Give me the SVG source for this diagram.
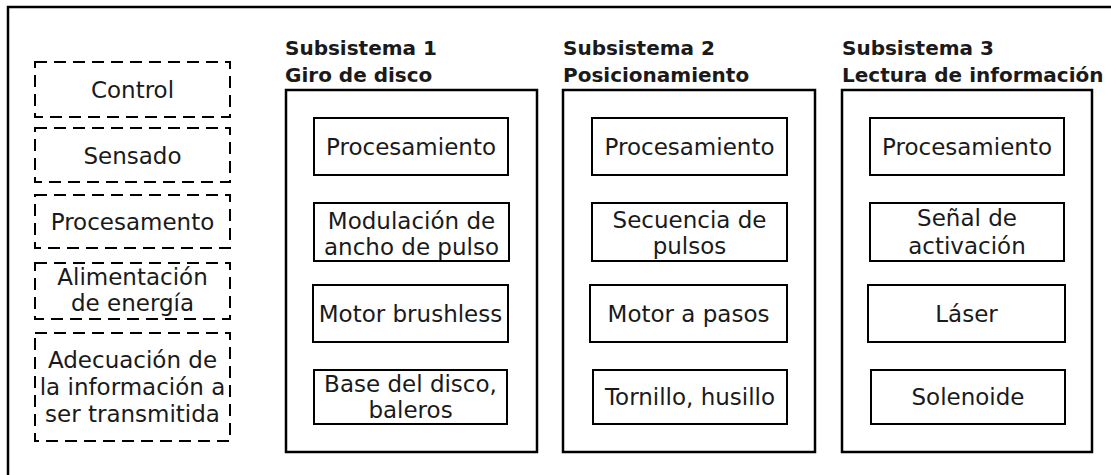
<svg xmlns="http://www.w3.org/2000/svg" width="1111" height="475" viewBox="0 0 1111 475">
<style>
.frame{fill:none;stroke:#000;stroke-width:2.5}
.dash{fill:none;stroke:#000;stroke-width:2;stroke-dasharray:12 7}
.sub{fill:none;stroke:#000;stroke-width:2.5}
.box{fill:#fff;stroke:#000;stroke-width:2}
text{font-family:"DejaVu Sans","Liberation Sans",sans-serif;fill:#1a1a1a}
.t{font-size:23px;text-anchor:middle}
.h{font-size:20px;font-weight:bold}
</style>
<rect width="1111" height="475" fill="#fff"/>
<rect class="frame" x="8" y="7" width="1300" height="700"/>
<g id="leyenda">
<g id="control"><rect class="dash" x="35" y="62" width="195" height="55"/><text class="t" x="132.5" y="97.5">Control</text></g>
<g id="sensado"><rect class="dash" x="35" y="128" width="195" height="54"/><text class="t" x="132.5" y="163.5">Sensado</text></g>
<g id="procesamento"><rect class="dash" x="35" y="195" width="195" height="53"/><text class="t" x="132.5" y="230">Procesamento</text></g>
<g id="alimentacion"><rect class="dash" x="35" y="263" width="195" height="56"/><text class="t" x="132.5" y="285">Alimentación</text><text class="t" x="132.5" y="311">de energía</text></g>
<g id="adecuacion"><rect class="dash" x="35" y="333" width="195" height="108"/><text class="t" x="132.5" y="368">Adecuación de</text><text class="t" x="132.5" y="395">la información a</text><text class="t" x="132.5" y="422">ser transmitida</text></g>
</g>
<g id="subsistema1">
<text class="h" x="285" y="55">Subsistema 1</text><text class="h" x="285" y="82">Giro de disco</text>
<rect class="sub" x="286" y="90" width="251" height="362"/>
<g id="s1-proc"><rect class="box" x="314" y="118" width="194" height="57"/><text class="t" x="411" y="155">Procesamiento</text></g>
<g id="s1-pwm"><rect class="box" x="314" y="203" width="195" height="58"/><text class="t" x="411.5" y="229">Modulación de</text><text class="t" x="411.5" y="255">ancho de pulso</text></g>
<g id="s1-motor"><rect class="box" x="313" y="285" width="195" height="57"/><text class="t" x="410.5" y="322">Motor brushless</text></g>
<g id="s1-base"><rect class="box" x="314" y="370" width="193" height="54"/><text class="t" x="410.5" y="392">Base del disco,</text><text class="t" x="410.5" y="418">baleros</text></g>
</g>
<g id="subsistema2">
<text class="h" x="563" y="55">Subsistema 2</text><text class="h" x="563" y="82">Posicionamiento</text>
<rect class="sub" x="563" y="90" width="252" height="362"/>
<g id="s2-proc"><rect class="box" x="592" y="118" width="195" height="57"/><text class="t" x="689.5" y="155">Procesamiento</text></g>
<g id="s2-sec"><rect class="box" x="592" y="203" width="195" height="58"/><text class="t" x="689.5" y="228">Secuencia de</text><text class="t" x="689.5" y="254">pulsos</text></g>
<g id="s2-motor"><rect class="box" x="590" y="285" width="197" height="57"/><text class="t" x="688.5" y="322">Motor a pasos</text></g>
<g id="s2-torn"><rect class="box" x="593" y="370" width="194" height="54"/><text class="t" x="690" y="405">Tornillo, husillo</text></g>
</g>
<g id="subsistema3">
<text class="h" x="842" y="55">Subsistema 3</text><text class="h" x="842" y="82">Lectura de información</text>
<rect class="sub" x="842" y="90" width="250" height="362"/>
<g id="s3-proc"><rect class="box" x="870" y="118" width="194" height="57"/><text class="t" x="967" y="155">Procesamiento</text></g>
<g id="s3-senal"><rect class="box" x="870" y="203" width="194" height="58"/><text class="t" x="967" y="226">Señal de</text><text class="t" x="967" y="254">activación</text></g>
<g id="s3-laser"><rect class="box" x="868" y="285" width="197" height="57"/><text class="t" x="966.5" y="322">Láser</text></g>
<g id="s3-sol"><rect class="box" x="871" y="370" width="194" height="54"/><text class="t" x="968" y="405">Solenoide</text></g>
</g>
<g id="connectors"></g>
</svg>
